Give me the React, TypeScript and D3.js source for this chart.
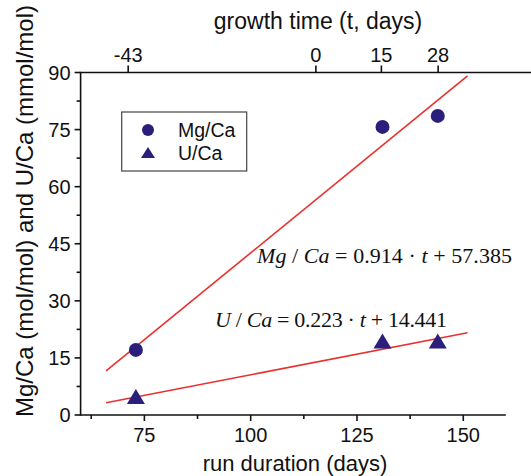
import React from "react";
import * as d3 from "d3";

const runDays = [73, 131, 144];
const mgCa = [17.1, 75.7, 78.6];
const uCa = [4.7, 19.3, 19.3];
const fitRun = [66, 151];
const mgFit = [11.6, 89.1];
const uFit = [3.2, 21.6];
const yTicks = [0, 15, 30, 45, 60, 75, 90];
const yMinor = [7.5, 22.5, 37.5, 52.5, 67.5, 82.5];
const xTicks = [75, 100, 125, 150];
const xMinor = [62.5, 87.5, 112.5, 137.5];
const topTicks = [-43, 0, 15, 28];
const legendLabels = ["Mg/Ca", "U/Ca"];

const W = 531;
const H = 476;
const NAVY = "#2a1f7a";
const RED = "#e8302e";
const SANS = "'Liberation Sans', Arial, sans-serif";
const SERIF = "'Liberation Serif', 'Times New Roman', serif";

export default function App() {
  const x = d3.scaleLinear().domain([60, 160]).range([80.6, 505.8]);
  const xTop = d3.scaleLinear().domain([-53.9, 43.5]).range([80.6, 505.8]);
  const y = d3.scaleLinear().domain([0, 90]).range([415, 72.5]);
  const line = d3
    .line<[number, number]>()
    .x((d) => x(d[0]))
    .y((d) => y(d[1]));
  const mgLine = line(fitRun.map((r, i) => [r, mgFit[i]] as [number, number]));
  const uLine = line(fitRun.map((r, i) => [r, uFit[i]] as [number, number]));
  const tri = "M0,-8L9,7L-9,7Z";
  const triSmall = "M0,-6L7,5L-7,5Z";
  const [x0, x1] = x.range();
  const [y0, y1] = y.range();

  return (
    <svg
      width={W}
      height={H}
      style={{ position: "absolute", left: 0, top: 0, background: "#fff" }}
    >
      {/* fit lines */}
      <path d={mgLine || ""} stroke={RED} strokeWidth={1.6} fill="none" />
      <path d={uLine || ""} stroke={RED} strokeWidth={1.6} fill="none" />

      {/* points */}
      {runDays.map((r, i) => (
        <circle key={"m" + i} cx={x(r)} cy={y(mgCa[i])} r={7} fill={NAVY} />
      ))}
      {runDays.map((r, i) => (
        <path
          key={"u" + i}
          d={tri}
          transform={`translate(${x(r)},${y(uCa[i])})`}
          fill={NAVY}
        />
      ))}

      {/* axes */}
      <g stroke="#111" strokeWidth={1.6} fill="none">
        <line x1={x0} x2={x0} y1={y1} y2={y0 + 0.8} />
        <line x1={x0} x2={x1} y1={y0} y2={y0} />
        <line x1={x0 - 1} x2={W} y1={y1} y2={y1} />
        {yTicks.map((t) => (
          <line key={"yt" + t} x1={x0 - 6} x2={x0} y1={y(t)} y2={y(t)} />
        ))}
        {yMinor.map((t) => (
          <line key={"ym" + t} x1={x0 - 4} x2={x0} y1={y(t)} y2={y(t)} />
        ))}
        {xTicks.map((t) => (
          <line key={"xt" + t} x1={x(t)} x2={x(t)} y1={y0} y2={y0 + 6} />
        ))}
        {xMinor.map((t) => (
          <line key={"xm" + t} x1={x(t)} x2={x(t)} y1={y0} y2={y0 + 4} />
        ))}
        {topTicks.map((t) => (
          <line key={"tt" + t} x1={xTop(t)} x2={xTop(t)} y1={y1} y2={y1 - 7} />
        ))}
      </g>

      <g fontFamily={SANS} fontSize={20} fill="#111">
        {yTicks.map((t) => (
          <text key={"yl" + t} x={x0 - 10} y={y(t)} dy="0.35em" textAnchor="end">
            {t}
          </text>
        ))}
        {xTicks.map((t) => (
          <text key={"xl" + t} x={x(t)} y={442} textAnchor="middle">
            {t}
          </text>
        ))}
        {topTicks.map((t) => (
          <text key={"tl" + t} x={xTop(t)} y={62} textAnchor="middle">
            {t}
          </text>
        ))}
      </g>

      {/* titles */}
      <text x={295} y={471} fontFamily={SANS} fontSize={22} textAnchor="middle" fill="#111">
        run duration (days)
      </text>
      <text x={318} y={29} fontFamily={SANS} fontSize={23} textAnchor="middle" fill="#111">
        growth time (t, days)
      </text>
      <text
        transform="translate(33,211) rotate(-90)"
        fontFamily={SANS}
        fontSize={24}
        textAnchor="middle"
        fill="#111"
      >
        Mg/Ca (mol/mol) and U/Ca (mmol/mol)
      </text>

      {/* legend */}
      <rect x={121.7} y={112} width={125} height={59} fill="#fff" stroke="#444" strokeWidth={1.2} />
      <circle cx={148} cy={130} r={6} fill={NAVY} />
      <path d={triSmall} transform="translate(148,153)" fill={NAVY} />
      <g fontFamily={SANS} fontSize={19.5} fill="#111">
        <text x={178} y={137}>{legendLabels[0]}</text>
        <text x={178} y={160}>{legendLabels[1]}</text>
      </g>

      {/* equations */}
      <text x={257} y={262.5} fontFamily={SERIF} fontSize={22} fill="#111" textLength={255}>
        <tspan fontStyle="italic">Mg</tspan>
        <tspan> / </tspan>
        <tspan fontStyle="italic">Ca</tspan>
        <tspan> = 0.914 · </tspan>
        <tspan fontStyle="italic">t</tspan>
        <tspan> + 57.385</tspan>
      </text>
      <text x={215} y={327} fontFamily={SERIF} fontSize={22} fill="#111" textLength={232}>
        <tspan fontStyle="italic">U</tspan>
        <tspan> / </tspan>
        <tspan fontStyle="italic">Ca</tspan>
        <tspan> = 0.223 · </tspan>
        <tspan fontStyle="italic">t</tspan>
        <tspan> + 14.441</tspan>
      </text>
    </svg>
  );
}
